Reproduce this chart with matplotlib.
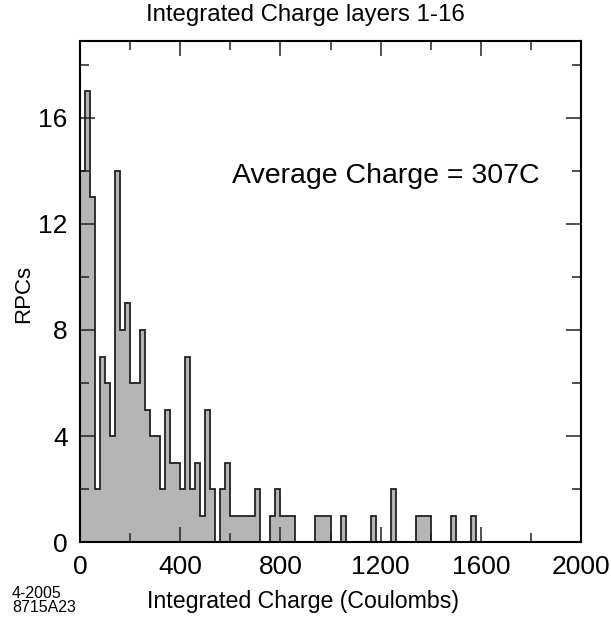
import numpy as np
import matplotlib.pyplot as plt
from matplotlib.ticker import MultipleLocator

plt.rcParams['font.family'] = ['Liberation Sans', 'DejaVu Sans']

# RPC counts per 20 C bin, starting at 0 C
bin_width = 20
counts = [14, 17, 13, 2, 7, 6, 4, 14, 8, 9,
          6, 6, 8, 5, 4, 4, 2, 5, 3, 3,
          2, 7, 2, 3, 1, 5, 2, 0, 2, 3,
          1, 1, 1, 1, 1, 2, 0, 0, 1, 2,
          1, 1, 1, 0, 0, 0, 0, 1, 1, 1,
          0, 0, 1, 0, 0, 0, 0, 0, 1, 0,
          0, 0, 2, 0, 0, 0, 0, 1, 1, 1,
          0, 0, 0, 0, 1, 0, 0, 0, 1, 0]
edges = np.arange(len(counts) + 1) * bin_width

W, H = 611, 621
fig = plt.figure(figsize=(W / 100, H / 100), dpi=100)
ax = fig.add_axes([80 / W, 1 - 542.3 / H, 501 / W, 501.6 / H])

ax.stairs(counts, edges, fill=True, facecolor='#b5b5b5', edgecolor='none')
ax.stairs(counts, edges, fill=False, color='#222222', linewidth=1.3, baseline=0)

ax.set_xlim(0, 2000)
ax.set_ylim(0, 18.9)
ax.xaxis.set_major_locator(MultipleLocator(400))
ax.xaxis.set_minor_locator(MultipleLocator(200))
ax.yaxis.set_major_locator(MultipleLocator(4))
ax.yaxis.set_minor_locator(MultipleLocator(2))
ax.tick_params(which='both', direction='in', top=True, right=True,
               labelsize=19, width=1.1, color='#222222')
ax.tick_params(which='major', length=10.5, pad=9)
ax.tick_params(which='minor', length=6.5)
for s in ax.spines.values():
    s.set_linewidth(1.5)

fig.text(305 / W, 1 - 21 / H, 'Integrated Charge layers 1-16', fontsize=17.3,
         ha='center', va='baseline')
fig.text(303 / W, 1 - 608 / H, 'Integrated Charge (Coulombs)', fontsize=16.7,
         ha='center', va='baseline')
fig.text(24 / W, 1 - 294 / H, 'RPCs', fontsize=16, rotation=90,
         ha='center', va='center')
fig.text(232 / W, 1 - 183 / H, 'Average Charge = 307C', fontsize=20.5,
         ha='left', va='baseline')
fig.text(12 / W, 1 - 615 / H, '4-2005\n8715A23', fontsize=11.5,
         ha='left', va='bottom', linespacing=0.95)

fig.savefig('out.png', dpi=100)
